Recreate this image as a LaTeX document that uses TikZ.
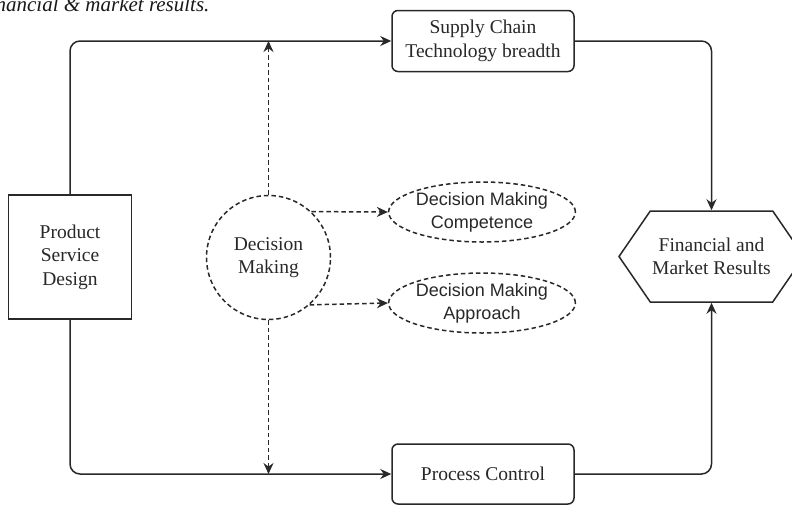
\documentclass[tikz,border=0pt]{standalone}
\usepackage{fontspec}
\setmainfont{Liberation Serif}
\newfontfamily\arialfont{Liberation Sans}
\usepackage{tikz}
\usetikzlibrary{shapes.geometric, shapes.symbols, arrows.meta, positioning}
\definecolor{linecolor}{RGB}{40, 40, 40}
\definecolor{textcolor}{RGB}{40, 40, 40}

\begin{document}
\begin{tikzpicture}[
    x=1pt, y=-1pt,
    box/.style={draw=linecolor, line width=1.5pt, fill=white, text=textcolor, align=center, inner sep=0pt, font=\fontsize{19.5}{23.5}\selectfont},
    hexbox/.style={box, signal, signal to=west and east, signal pointer angle=111},
    dashnode/.style={draw=linecolor, line width=1.5pt, dash pattern=on 4.5pt off 3pt, text=textcolor, align=center, inner sep=0pt},
    flow/.style={draw=linecolor, line width=1.5pt, rounded corners=10pt, -{Stealth[length=11pt, width=10pt]}},
    dflow/.style={flow, dash pattern=on 4.5pt off 3pt}
]
    \useasboundingbox (0,0) rectangle (792,504);
    \clip (0,0) rectangle (792,504);

    % Caption cut off at the top
    \node[anchor=base east, font=\fontsize{21}{25}\selectfont\itshape, text=black!90] (cap) at (213,11) {Financial \& market results.};

    % Main blocks
    \node[box, minimum width=123, minimum height=124] (psd) at (70,257) {Product\\Service\\Design};
    \node[box, rounded corners=6pt, minimum width=182, minimum height=61] (scm) at (483,41) {Supply Chain\\Technology breadth};
    \node[box, rounded corners=6pt, minimum width=182, minimum height=60] (pc) at (483,474) {Process Control};
    \node[hexbox, minimum width=185, minimum height=91] (fmr) at (711.5,256.5) {Financial and\\Market Results};

    % Decision making
    \node[dashnode, circle, minimum size=124, font=\fontsize{19.5}{23.5}\selectfont] (dm) at (268.5,257.5) {Decision\\Making};
    \node[dashnode, ellipse, minimum width=181, minimum height=60, font=\arialfont\fontsize{18}{23}\selectfont] (dmc) at (482,212) {Decision Making\\Competence};
    \node[dashnode, ellipse, minimum width=181, minimum height=60, font=\arialfont\fontsize{18}{23}\selectfont] (dma) at (482,303) {Decision Making\\Approach};

    % Solid flows
    \draw[flow] (psd.north) |- (scm.west);
    \draw[flow] (scm.east) -| (fmr.north);
    \draw[flow] (psd.south) |- (pc.west);
    \draw[flow] (pc.east) -| (fmr.south);

    % Dashed flows
    \draw[dflow] (dm.north) -- (dm.north |- scm.west);
    \draw[dflow] (dm.south) -- (dm.south |- pc.west);
    \draw[dflow] (dm.47) -- (dmc.west);
    \draw[dflow] (dm.-49) -- (dma.west);

\end{tikzpicture}
\end{document}
